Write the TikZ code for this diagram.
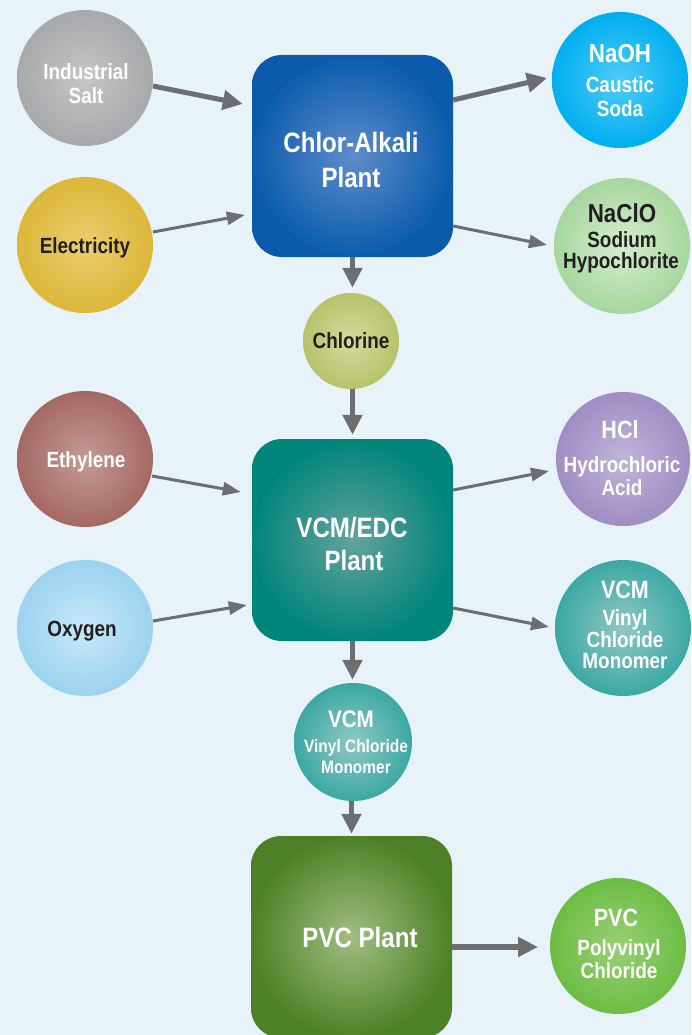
\documentclass[tikz,border=0pt]{standalone}
\usepackage{fontspec}
\setmainfont{Liberation Sans}
\newfontfamily\labfont{Liberation Sans}[FakeStretch=0.86]
\usetikzlibrary{arrows.meta,calc}
\definecolor{bg}{HTML}{E7F2F9}
\definecolor{arrowgray}{HTML}{6D6E71}
\definecolor{darktext}{HTML}{231F20}
\begin{document}
\begin{tikzpicture}[x=1pt,y=-1pt,
  bubble/.style={circle, minimum size=136pt, inner sep=0pt, shading=radial},
  plantbox/.style={rounded corners=30pt, minimum width=201pt, minimum height=202pt, inner sep=0pt, shading=radial},
  txt/.style={anchor=base, inner sep=0pt, text=white},
  dk/.style={text=darktext},
  fs/.style={font=\labfont\bfseries\fontsize{#1}{#1}\selectfont},
  flowthick/.style={draw=arrowgray, line width=5pt, -{Triangle[length=20pt,width=19pt]}},
  flowthin/.style={draw=arrowgray, line width=3pt, -{Triangle[length=18pt,width=13pt]}}
]
\fill[bg] (0,0) rectangle (691,1035);
\useasboundingbox (0,0) rectangle (691,1035);
\clip (0,0) rectangle (691,1035);

% circles
\node[bubble, inner color=gray!45!white, outer color={rgb,255:red,167;green,169;blue,172}] (salt) at (85,78) {};
\node[bubble, inner color={rgb,255:red,234;green,206;blue,112}, outer color={rgb,255:red,221;green,183;blue,58}] (elec) at (85,245) {};
\node[bubble, inner color={rgb,255:red,80;green,204;blue,246}, outer color={rgb,255:red,0;green,174;blue,239}] (naoh) at (620,80) {};
\node[bubble, inner color={rgb,255:red,214;green,237;blue,208}, outer color={rgb,255:red,166;green,215;blue,158}] (naclo) at (622,246) {};
\node[bubble, minimum size=96pt, inner color={rgb,255:red,214;green,218;blue,160}, outer color={rgb,255:red,184;green,194;blue,106}] (chl) at (351,341) {};
\node[bubble, inner color={rgb,255:red,196;green,154;blue,148}, outer color={rgb,255:red,164;green,105;blue,100}] (eth) at (85,459) {};
\node[bubble, inner color={rgb,255:red,200;green,232;blue,248}, outer color={rgb,255:red,156;green,211;blue,240}] (oxy) at (85,628) {};
\node[bubble, minimum size=134pt, inner color={rgb,255:red,194;green,180;blue,218}, outer color={rgb,255:red,160;green,141;blue,195}] (hcl) at (623,459) {};
\node[bubble, inner color={rgb,255:red,144;green,200;blue,197}, outer color={rgb,255:red,60;green,168;blue,163}] (vcmr) at (623,628) {};
\node[bubble, minimum size=118pt, inner color={rgb,255:red,144;green,200;blue,197}, outer color={rgb,255:red,60;green,168;blue,163}] (vcmm) at (353,742) {};
\node[bubble, inner color={rgb,255:red,152;green,208;blue,118}, outer color={rgb,255:red,108;green,189;blue,68}] (pvcc) at (618,946) {};

% plant boxes
\node[plantbox, inner color={rgb,255:red,96;green,140;blue,204}, outer color={rgb,255:red,10;green,92;blue,170}] (ca) at (352.5,156) {};
\node[plantbox, inner color={rgb,255:red,100;green,162;blue,158}, outer color={rgb,255:red,0;green,133;blue,122}] (vcm) at (352.5,540) {};
\node[plantbox, inner color={rgb,255:red,160;green,190;blue,130}, outer color={rgb,255:red,78;green,129;blue,39}] (pvc) at (351.5,937) {};

% connectors
\draw[flowthick] ($(salt.center)+(68,8)$) -- ($(ca.west)+(-9,-52)$);
\draw[flowthin] ($(elec.center)+(68,-13)$) -- ($(ca.west)+(-7,59)$);
\draw[flowthick] ($(ca.east)+(0,-56)$) -- ($(naoh.center)+(-73,-2)$);
\draw[flowthin] ($(ca.east)+(0,70)$) -- ($(naclo.center)+(-75,-1)$);
\draw[flowthick, shorten >=5pt] (ca.south) -- (ca.south |- chl.north);
\draw[flowthick, shorten >=4pt] (vcm.north |- chl.south) -- (vcm.north);
\draw[flowthin] ($(eth.center)+(67,17)$) -- ($(vcm.west)+(-11,-48)$);
\draw[flowthin] ($(oxy.center)+(68,-7)$) -- ($(vcm.west)+(-5,65)$);
\draw[flowthin] ($(vcm.east)+(0,-50)$) -- ($(hcl.center)+(-74,12)$);
\draw[flowthin] ($(vcm.east)+(0,68)$) -- ($(vcmr.center)+(-74,-1)$);
\draw[flowthick, shorten >=3pt] (vcm.south) -- (vcm.south |- vcmm.north);
\draw[flowthick, shorten >=2pt] (pvc.north |- vcmm.south) -- (pvc.north);
\draw[flowthick, line width=6pt] ($(pvc.east)+(0,10)$) -- ($(pvcc.center)+(-80,1)$);

% texts
\node[txt, fs=22] (t-salt1) at (86,80) {Industrial};
\node[txt, fs=22] (t-salt2) at (86,104) {Salt};
\node[txt, dk, fs=22] (t-elec) at (85,253) {Electricity};
\node[txt, fs=26] (t-naoh1) at (620,63) {NaOH};
\node[txt, fs=22] (t-naoh2) at (620,93) {Caustic};
\node[txt, fs=22] (t-naoh3) at (620,117) {Soda};
\node[txt, dk, fs=26] (t-naclo1) at (622,222) {NaClO};
\node[txt, dk, fs=22] (t-naclo2) at (622,247) {Sodium};
\node[txt, dk, fs=22] (t-naclo3) at (621,268) {Hypochlorite};
\node[txt, dk, fs=22] (t-chl) at (351,348) {Chlorine};
\node[txt, fs=28] (t-ca1) at (351,153) {Chlor-Alkali};
\node[txt, fs=28] (t-ca2) at (351,187) {Plant};
\node[txt, fs=22] (t-eth) at (86,467) {Ethylene};
\node[txt, dk, fs=22] (t-oxy) at (82,636) {Oxygen};
\node[txt, fs=28] (t-vcm1) at (352,537) {VCM/EDC};
\node[txt, fs=28] (t-vcm2) at (354,570) {Plant};
\node[txt, fs=25] (t-hcl1) at (620,438) {HCl};
\node[txt, fs=22] (t-hcl2) at (622,472) {Hydrochloric};
\node[txt, fs=22] (t-hcl3) at (622,495) {Acid};
\node[txt, fs=25] (t-vcmr1) at (625,598) {VCM};
\node[txt, fs=22] (t-vcmr2) at (625,625) {Vinyl};
\node[txt, fs=22] (t-vcmr3) at (625,647) {Chloride};
\node[txt, fs=22] (t-vcmr4) at (625,668) {Monomer};
\node[txt, fs=24] (t-vcmm1) at (351,727) {VCM};
\node[txt, fs=18] (t-vcmm2) at (356,752) {Vinyl Chloride};
\node[txt, fs=18] (t-vcmm3) at (356,773) {Monomer};
\node[txt, fs=28] (t-pvc) at (360,947) {PVC Plant};
\node[txt, fs=25] (t-pvcc1) at (616,926) {PVC};
\node[txt, fs=22] (t-pvcc2) at (619,955) {Polyvinyl};
\node[txt, fs=22] (t-pvcc3) at (619,978) {Chloride};
\end{tikzpicture}
\end{document}
